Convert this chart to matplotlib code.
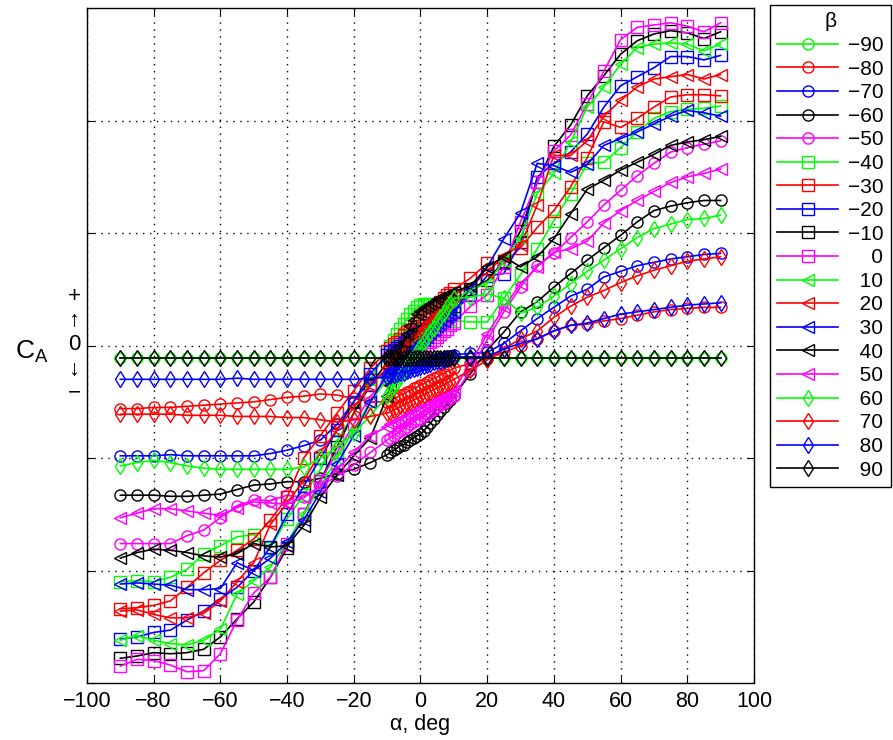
import numpy as np
import matplotlib
matplotlib.use('Agg')
import matplotlib.pyplot as plt

plt.rcParams['font.family'] = ['Liberation Sans', 'DejaVu Sans']
plt.rcParams['axes.unicode_minus'] = True

# angle of attack: 5 deg steps outside, 1 deg steps between -10 and 10
alpha = [-90, -85, -80, -75, -70, -65, -60, -55, -50, -45, -40, -35, -30, -25, -20, -15,
         -10, -9, -8, -7, -6, -5, -4, -3, -2, -1, 0, 1, 2, 3, 4, 5, 6, 7, 8, 9, 10,
         15, 20, 25, 30, 35, 40, 45, 50, 55, 60, 65, 70, 75, 80, 85, 90]

betas = [-90, -80, -70, -60, -50, -40, -30, -20, -10, 0, 10, 20, 30, 40, 50, 60, 70, 80, 90]

ca_m90 = [-0.11, -0.11, -0.11, -0.11, -0.11, -0.11, -0.11, -0.11, -0.11, -0.11, -0.11, -0.11, -0.11, -0.11, -0.11, -0.11,
          -0.11, -0.11, -0.11, -0.11, -0.11, -0.11, -0.11, -0.11, -0.11, -0.11, -0.11, -0.11, -0.11, -0.11, -0.11, -0.11, -0.11, -0.11, -0.11, -0.11, -0.11,
          -0.11, -0.11, -0.11, -0.11, -0.11, -0.11, -0.11, -0.11, -0.11, -0.11, -0.11, -0.11, -0.11, -0.11, -0.11, -0.11]
ca_m80 = [-0.56, -0.56, -0.55, -0.55, -0.54, -0.53, -0.52, -0.51, -0.50, -0.48, -0.46, -0.45, -0.43, -0.44, -0.47, -0.50,
          -0.50, -0.49, -0.47, -0.46, -0.44, -0.43, -0.41, -0.40, -0.38, -0.37, -0.35, -0.34, -0.32, -0.31, -0.29, -0.28, -0.26, -0.25, -0.23, -0.22, -0.20,
          -0.16, -0.12, -0.06, 0.00, 0.06, 0.13, 0.18, 0.19, 0.22, 0.24, 0.27, 0.30, 0.32, 0.33, 0.34, 0.34]
ca_m70 = [-0.98, -0.98, -0.98, -0.97, -0.98, -0.98, -0.98, -0.98, -0.98, -0.96, -0.93, -0.89, -0.84, -0.70, -0.50, -0.30,
          -0.27, -0.26, -0.25, -0.24, -0.23, -0.22, -0.21, -0.20, -0.19, -0.18, -0.17, -0.16, -0.15, -0.14, -0.13, -0.12, -0.11, -0.10, -0.09, -0.09, -0.08,
          -0.07, -0.06, 0.02, 0.13, 0.24, 0.34, 0.44, 0.50, 0.61, 0.66, 0.71, 0.74, 0.77, 0.79, 0.81, 0.82]
ca_m60 = [-1.33, -1.33, -1.33, -1.34, -1.34, -1.33, -1.32, -1.28, -1.24, -1.23, -1.21, -1.21, -1.18, -1.14, -1.10, -1.04,
          -0.97, -0.95, -0.93, -0.91, -0.89, -0.88, -0.86, -0.84, -0.82, -0.80, -0.79, -0.76, -0.72, -0.69, -0.65, -0.62, -0.58, -0.55, -0.51, -0.48, -0.45,
          -0.25, -0.04, 0.12, 0.30, 0.39, 0.52, 0.64, 0.76, 0.87, 0.98, 1.10, 1.20, 1.24, 1.27, 1.29, 1.29]
ca_m50 = [-1.76, -1.76, -1.76, -1.76, -1.69, -1.64, -1.53, -1.43, -1.37, -1.38, -1.33, -1.35, -1.25, -1.16, -1.06, -0.95,
          -0.84, -0.82, -0.80, -0.78, -0.76, -0.74, -0.72, -0.70, -0.68, -0.66, -0.65, -0.63, -0.61, -0.59, -0.57, -0.55, -0.53, -0.51, -0.49, -0.47, -0.45,
          -0.22, 0.05, 0.30, 0.52, 0.71, 0.82, 0.96, 1.10, 1.25, 1.38, 1.51, 1.62, 1.72, 1.76, 1.79, 1.82]
ca_m40 = [-2.10, -2.09, -2.10, -2.06, -1.99, -1.85, -1.78, -1.70, -1.68, -1.80, -1.54, -1.33, -1.10, -0.85, -0.60, -0.30,
          -0.05, 0.00, 0.05, 0.10, 0.15, 0.19, 0.24, 0.28, 0.31, 0.34, 0.36, 0.37, 0.37, 0.36, 0.35, 0.33, 0.31, 0.29, 0.26, 0.24, 0.22,
          0.21, 0.21, 0.42, 0.63, 0.86, 1.11, 1.35, 1.62, 1.63, 1.76, 1.90, 2.02, 2.08, 2.10, 2.11, 2.13]
ca_m30 = [-2.34, -2.33, -2.31, -2.27, -2.15, -2.02, -1.91, -1.82, -1.72, -1.55, -1.35, -1.00, -0.80, -0.60, -0.40, -0.20,
          -0.05, -0.02, 0.01, 0.03, 0.06, 0.09, 0.12, 0.14, 0.17, 0.20, 0.23, 0.25, 0.28, 0.31, 0.34, 0.36, 0.39, 0.42, 0.45, 0.47, 0.50,
          0.60, 0.73, 0.73, 0.87, 1.05, 1.20, 1.41, 1.67, 1.99, 1.94, 2.02, 2.12, 2.21, 2.23, 2.23, 2.22]
ca_m20 = [-2.61, -2.59, -2.55, -2.53, -2.44, -2.36, -2.25, -2.15, -2.00, -1.79, -1.50, -1.25, -1.00, -0.75, -0.50, -0.25,
          -0.08, -0.06, -0.04, -0.02, 0.00, 0.02, 0.04, 0.06, 0.08, 0.10, 0.11, 0.13, 0.15, 0.17, 0.19, 0.21, 0.23, 0.25, 0.27, 0.28, 0.30,
          0.45, 0.62, 0.64, 0.92, 1.50, 1.62, 1.72, 1.88, 2.12, 2.31, 2.39, 2.47, 2.57, 2.57, 2.54, 2.58]
ca_m10 = [-2.78, -2.76, -2.73, -2.74, -2.73, -2.70, -2.59, -2.43, -2.28, -2.06, -1.80, -1.50, -1.20, -0.90, -0.60, -0.35,
          -0.15, -0.12, -0.10, -0.07, -0.05, -0.02, 0.00, 0.03, 0.05, 0.08, 0.10, 0.13, 0.15, 0.18, 0.20, 0.23, 0.25, 0.28, 0.30, 0.33, 0.35,
          0.50, 0.58, 0.75, 1.02, 1.45, 1.77, 1.96, 2.22, 2.40, 2.59, 2.71, 2.77, 2.80, 2.78, 2.73, 2.79]
ca_0 = [-2.85, -2.79, -2.80, -2.84, -2.90, -2.89, -2.74, -2.44, -2.20, -2.06, -1.76, -1.50, -1.20, -0.95, -0.70, -0.45,
        -0.30, -0.27, -0.25, -0.22, -0.20, -0.17, -0.15, -0.12, -0.10, -0.07, -0.05, -0.02, 0.00, 0.03, 0.05, 0.08, 0.10, 0.13, 0.15, 0.18, 0.20,
        0.35, 0.45, 0.70, 1.10, 1.45, 1.73, 1.87, 2.15, 2.44, 2.72, 2.83, 2.85, 2.87, 2.84, 2.79, 2.87]
ca_p10 = [-2.62, -2.58, -2.62, -2.65, -2.66, -2.62, -2.52, -2.21, -2.09, -1.97, -1.75, -1.50, -1.25, -1.00, -0.75, -0.50,
          -0.30, -0.27, -0.23, -0.20, -0.16, -0.13, -0.09, -0.06, -0.02, 0.02, 0.05, 0.09, 0.12, 0.16, 0.19, 0.23, 0.26, 0.30, 0.33, 0.37, 0.40,
          0.50, 0.55, 0.75, 0.96, 1.35, 1.53, 1.81, 2.12, 2.30, 2.50, 2.65, 2.68, 2.69, 2.68, 2.62, 2.68]
ca_p20 = [-2.36, -2.35, -2.39, -2.42, -2.42, -2.38, -2.27, -2.10, -1.93, -1.59, -1.40, -1.20, -0.95, -0.75, -0.55, -0.35,
          -0.20, -0.17, -0.13, -0.10, -0.07, -0.04, 0.00, 0.03, 0.06, 0.09, 0.13, 0.16, 0.19, 0.22, 0.26, 0.29, 0.32, 0.35, 0.39, 0.42, 0.45,
          0.53, 0.65, 0.80, 0.89, 1.25, 1.69, 1.69, 1.82, 2.04, 2.18, 2.30, 2.37, 2.39, 2.41, 2.37, 2.41]
ca_p30 = [-2.12, -2.11, -2.12, -2.13, -2.17, -2.17, -2.16, -1.93, -2.00, -1.89, -1.75, -1.55, -1.30, -1.05, -0.80, -0.50,
          -0.25, -0.22, -0.20, -0.17, -0.14, -0.11, -0.09, -0.06, -0.03, 0.00, 0.03, 0.05, 0.08, 0.11, 0.14, 0.17, 0.19, 0.22, 0.25, 0.28, 0.30,
          0.50, 0.70, 0.95, 1.18, 1.62, 1.60, 1.54, 1.61, 1.78, 1.84, 1.90, 1.97, 2.04, 2.09, 2.07, 2.04]
ca_p40 = [-1.89, -1.84, -1.81, -1.82, -1.84, -1.87, -1.88, -1.85, -1.76, -1.79, -1.78, -1.60, -1.35, -1.15, -0.98, -0.82,
          -0.45, -0.35, -0.25, -0.15, -0.05, 0.03, 0.10, 0.17, 0.23, 0.28, 0.31, 0.33, 0.35, 0.37, 0.39, 0.41, 0.42, 0.44, 0.45, 0.47, 0.48,
          0.53, 0.70, 0.79, 0.70, 0.79, 0.95, 1.17, 1.39, 1.47, 1.56, 1.63, 1.70, 1.78, 1.81, 1.83, 1.86]
ca_p50 = [-1.53, -1.49, -1.45, -1.45, -1.47, -1.49, -1.51, -1.44, -1.39, -1.40, -1.41, -1.35, -1.25, -1.10, -0.95, -0.80,
          -0.72, -0.70, -0.69, -0.67, -0.66, -0.64, -0.62, -0.61, -0.59, -0.58, -0.56, -0.54, -0.53, -0.51, -0.50, -0.48, -0.46, -0.45, -0.43, -0.42, -0.40,
          -0.15, 0.10, 0.34, 0.55, 0.70, 0.83, 0.86, 0.93, 1.09, 1.20, 1.29, 1.37, 1.45, 1.50, 1.53, 1.57]
ca_p60 = [-1.07, -1.04, -1.02, -1.04, -1.07, -1.09, -1.10, -1.10, -1.10, -1.10, -1.10, -1.08, -1.00, -0.90, -0.78, -0.62,
          -0.45, -0.40, -0.36, -0.32, -0.27, -0.23, -0.19, -0.14, -0.10, -0.06, -0.01, 0.03, 0.08, 0.12, 0.16, 0.21, 0.25, 0.29, 0.34, 0.38, 0.42,
          0.43, 0.46, 0.42, 0.29, 0.34, 0.44, 0.55, 0.66, 0.76, 0.86, 0.96, 1.04, 1.08, 1.12, 1.13, 1.16]
ca_p70 = [-0.61, -0.61, -0.61, -0.61, -0.62, -0.62, -0.62, -0.63, -0.63, -0.63, -0.64, -0.64, -0.66, -0.68, -0.66, -0.63,
          -0.60, -0.59, -0.57, -0.56, -0.54, -0.53, -0.51, -0.50, -0.48, -0.47, -0.45, -0.44, -0.42, -0.41, -0.39, -0.38, -0.36, -0.35, -0.33, -0.32, -0.30,
          -0.22, -0.13, -0.03, 0.06, 0.13, 0.25, 0.35, 0.43, 0.49, 0.56, 0.62, 0.67, 0.71, 0.75, 0.77, 0.79]
ca_p80 = [-0.30, -0.30, -0.30, -0.30, -0.30, -0.30, -0.30, -0.29, -0.30, -0.30, -0.30, -0.30, -0.30, -0.30, -0.30, -0.29,
          -0.28, -0.27, -0.26, -0.25, -0.24, -0.24, -0.23, -0.22, -0.21, -0.20, -0.19, -0.18, -0.17, -0.16, -0.15, -0.14, -0.14, -0.13, -0.12, -0.11, -0.10,
          -0.10, -0.10, -0.03, 0.02, 0.06, 0.13, 0.18, 0.20, 0.24, 0.28, 0.30, 0.32, 0.34, 0.36, 0.37, 0.38]
ca_p90 = [-0.11, -0.11, -0.11, -0.11, -0.11, -0.11, -0.11, -0.11, -0.11, -0.11, -0.11, -0.11, -0.11, -0.11, -0.11, -0.11,
          -0.11, -0.11, -0.11, -0.11, -0.11, -0.11, -0.11, -0.11, -0.11, -0.11, -0.11, -0.11, -0.11, -0.11, -0.11, -0.11, -0.11, -0.11, -0.11, -0.11, -0.11,
          -0.11, -0.11, -0.11, -0.11, -0.11, -0.11, -0.11, -0.11, -0.11, -0.11, -0.11, -0.11, -0.11, -0.11, -0.11, -0.11]

series = [ca_m90, ca_m80, ca_m70, ca_m60, ca_m50, ca_m40, ca_m30, ca_m20, ca_m10, ca_0,
          ca_p10, ca_p20, ca_p30, ca_p40, ca_p50, ca_p60, ca_p70, ca_p80, ca_p90]

# matlab-like colour cycle and marker groups
colors = ['#00ff00', '#ff0000', '#0000ff', 'black', '#ff00ff']
markers = ['o']*5 + ['s']*5 + ['<']*5 + ['d']*4

fig = plt.figure(figsize=(8.93, 7.40), dpi=100)
ax = fig.add_axes([0.0974, 0.077, 0.7469, 0.912])

for i, b in enumerate(betas):
  # pad with figure spaces so the legend labels line up on the right
  if b < 0:
    lab = '\u2212' + str(-b)
  elif b == 0:
    lab = '\u2007\u20070'
  else:
    lab = '\u2007' + str(b)
  ax.plot(alpha, series[i], color=colors[i % 5], marker=markers[i], markersize=8,
          markerfacecolor='none', markeredgewidth=1.0, linewidth=1.2, label=lab)

ax.set_xlim(-100, 100)
ax.set_ylim(-3, 3)
ax.set_xticks(np.arange(-100, 101, 20))
ax.set_yticks([-2, -1, 0, 1, 2])
ax.set_yticklabels([])
ax.tick_params(direction='in', top=True, right=True, labelsize=15.5, length=5, pad=6)
ax.grid(True, color='black', linestyle=(0, (1, 4)), linewidth=1.0)
for s in ax.spines.values():
  s.set_linewidth(1.0)

ax.set_xlabel('\u03b1, deg', fontsize=15.5, labelpad=1)

fig.text(32/893, 1 - 352/740, r'C$_\mathregular{A}$', fontsize=19, ha='center', va='center')
fig.text(74/893, 1 - 345/740, '+\n\u2191\n0\n\u2193\n\u2212', fontsize=16, ha='center', va='center',
         linespacing=1.2)

leg = fig.legend(loc='upper left', bbox_to_anchor=(770/893, 0.993), title='\u03b2',
                 fontsize=15, title_fontsize=15, fancybox=False, edgecolor='black',
                 framealpha=1, labelspacing=0.22, handlelength=2.9, borderpad=0.35,
                 handletextpad=0.5, borderaxespad=0)
leg.get_frame().set_linewidth(1.0)

plt.savefig('out.png', dpi=100)
